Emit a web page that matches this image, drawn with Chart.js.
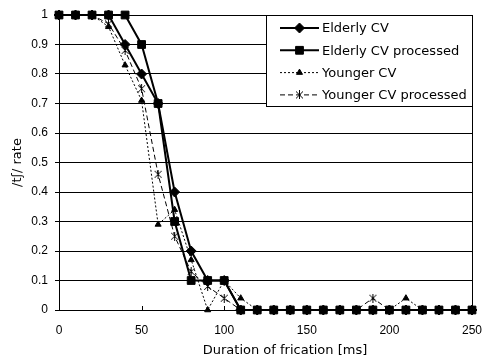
<!DOCTYPE html>
<html><head><meta charset="utf-8">
<script src="https://cdn.jsdelivr.net/npm/chart.js@4/dist/chart.umd.min.js"></script>
<style>html,body{margin:0;padding:0;background:#fff;}</style>
</head><body>
<canvas id="c" width="483" height="360"></canvas>
<script>
const durations = [0,10,20,30,40,50,60,70,80,90,100,110,120,130,140,150,160,170,180,190,200,210,220,230,240,250];
const elderlyCV = [1,1,1,1,0.9,0.8,0.7,0.4,0.2,0.1,0.1,0,0,0,0,0,0,0,0,0,0,0,0,0,0,0];
const elderlyCVProcessed = [1,1,1,1,1,0.9,0.7,0.3,0.1,0.1,0.1,0,0,0,0,0,0,0,0,0,0,0,0,0,0,0];
const youngerCV = [1,1,1,0.96,0.83,0.71,0.29,0.34,0.17,0,0.1,0.04,0,0,0,0,0,0,0,0,0,0.04,0,0,0,0];
const youngerCVProcessed = [1,1,1,0.97,0.88,0.75,0.46,0.25,0.13,0.08,0.04,0,0,0,0,0,0,0,0,0.04,0,0,0,0,0,0];
const seriesLabels = ['Elderly CV','Elderly CV processed','Younger CV','Younger CV processed'];
const yTickLabels = ['0','0.1','0.2','0.3','0.4','0.5','0.6','0.7','0.8','0.9','1'];
const xTitle = 'Duration of frication [ms]';
const yTitle = '/tʃ/ rate';

function asterisk(){
  const c=document.createElement('canvas'); c.width=9; c.height=9;
  const g=c.getContext('2d'); g.strokeStyle='#000'; g.lineWidth=1;
  g.beginPath(); g.moveTo(1,1); g.lineTo(8,8); g.moveTo(8,1); g.lineTo(1,8);
  g.moveTo(4.5,0); g.lineTo(4.5,9); g.stroke(); return c;
}
const ast = asterisk();
const pts = arr => durations.map((d,i)=>({x:d,y:arr[i]}));

const TXT = 'DejaVu Sans';
const decor = {
  id:'decor',
  afterDraw(chart){
    const ctx=chart.ctx, a=chart.chartArea, xs=chart.scales.x;
    ctx.save();
    ctx.strokeStyle='#000'; ctx.lineWidth=1;
    ctx.beginPath(); ctx.moveTo(Math.round(a.right)+0.5,a.top); ctx.lineTo(Math.round(a.right)+0.5,a.bottom); ctx.stroke();
    for(let v=50; v<=250; v+=50){
      const px=Math.round(xs.getPixelForValue(v))+0.5;
      ctx.beginPath(); ctx.moveTo(px,a.bottom); ctx.lineTo(px,a.bottom-4); ctx.stroke();
    }
    // x axis title (offset to the right, as in the original)
    ctx.fillStyle='#000'; ctx.font='13px "'+TXT+'"'; ctx.textAlign='center'; ctx.textBaseline='middle';
    ctx.fillText(xTitle,285,351);
    // legend
    const bx=266.5, by=15.5, bw=206, bh=91;
    ctx.fillStyle='#fff'; ctx.fillRect(bx,by,bw,bh);
    ctx.strokeRect(bx,by,bw,bh);
    chart.data.datasets.forEach((ds,i)=>{
      const y = 28 + i*22.3;
      ctx.strokeStyle='#000'; ctx.fillStyle='#000';
      ctx.setLineDash(ds.borderDash||[]); ctx.lineWidth=ds.borderWidth;
      ctx.beginPath(); ctx.moveTo(280,y); ctx.lineTo(319,y); ctx.stroke();
      ctx.setLineDash([]); ctx.lineWidth=1;
      Chart.helpers.drawPoint(ctx,{pointStyle:ds.pointStyle,radius:ds.pointRadius,borderWidth:1,rotation:0},299.5,y);
      ctx.font='13px "'+TXT+'"'; ctx.textBaseline='middle'; ctx.textAlign='left';
      ctx.fillText(ds.label,322,y+1);
    });
    ctx.restore();
  }
};

new Chart(document.getElementById('c'),{
  type:'line',
  data:{datasets:[
    {label:seriesLabels[0],data:pts(elderlyCV),borderColor:'#000',backgroundColor:'#000',borderWidth:2,pointStyle:'rectRot',pointRadius:5,pointBorderWidth:1,clip:false},
    {label:seriesLabels[1],data:pts(elderlyCVProcessed),borderColor:'#000',backgroundColor:'#000',borderWidth:2,pointStyle:'rect',pointRadius:5.5,pointBorderWidth:1,clip:false},
    {label:seriesLabels[2],data:pts(youngerCV),borderColor:'#000',backgroundColor:'#000',borderWidth:1,borderDash:[2,2],pointStyle:'triangle',pointRadius:3.5,pointBorderWidth:1,clip:false},
    {label:seriesLabels[3],data:pts(youngerCVProcessed),borderColor:'#000',backgroundColor:'#000',borderWidth:1,borderDash:[5,3],pointStyle:ast,pointRadius:4,pointBorderWidth:1,clip:false}
  ]},
  options:{
    responsive:false, animation:false, events:[],
    layout:{padding:{top:15,right:11,left:0,bottom:0}},
    plugins:{legend:{display:false},tooltip:{enabled:false}},
    elements:{line:{tension:0}},
    scales:{
      x:{type:'linear',min:0,max:250,
        afterFit(s){s.height=50; s.paddingLeft=0; s.paddingRight=0;},
        ticks:{stepSize:50,color:'#000',font:{family:'Liberation Sans',size:12},padding:13,maxRotation:0},
        grid:{display:false,drawTicks:false},
        border:{display:true,color:'#000',width:1},
        title:{display:false,text:xTitle}
      },
      y:{min:0,max:1,
        afterFit(s){s.width=59; s.paddingTop=0; s.paddingBottom=0;},
        ticks:{stepSize:0.1,color:'#000',font:{family:'Liberation Sans',size:12},padding:7,
          callback:(v,i)=>yTickLabels[i]},
        grid:{color:'#000',lineWidth:1,tickLength:4,drawTicks:true},
        border:{display:true,color:'#000',width:1},
        title:{display:true,text:yTitle,color:'#000',font:{family:TXT,size:13},padding:{top:10,bottom:0}}
      }
    }
  },
  plugins:[decor]
});
</script>
</body></html>
